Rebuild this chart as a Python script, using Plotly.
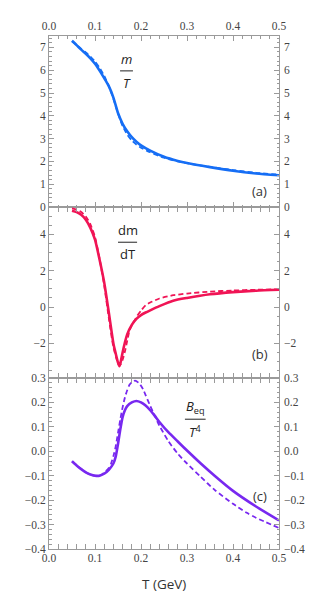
import plotly.graph_objects as go

# panel (a): m/T
T_a = [0.05, 0.06, 0.07, 0.08, 0.09, 0.10, 0.11, 0.12, 0.13, 0.14, 0.15, 0.16,
       0.17, 0.18, 0.19, 0.20, 0.22, 0.25, 0.28, 0.30, 0.35, 0.40, 0.45, 0.50]
mT_solid = [7.29, 7.10, 6.90, 6.72, 6.52, 6.28, 5.98, 5.65, 5.30, 4.80, 4.12, 3.65,
            3.32, 3.06, 2.86, 2.70, 2.47, 2.20, 2.02, 1.93, 1.75, 1.59, 1.47, 1.39]
mT_dashed = [7.27, 7.10, 6.93, 6.78, 6.60, 6.38, 6.10, 5.75, 5.30, 4.75, 4.10, 3.55,
             3.18, 2.92, 2.74, 2.60, 2.40, 2.16, 2.00, 1.92, 1.76, 1.62, 1.50, 1.42]

# panel (b): dm/dT
T_b_solid = [0.05, 0.06, 0.07, 0.08, 0.09, 0.10, 0.11, 0.12, 0.13, 0.14, 0.145, 0.15,
             0.153, 0.156, 0.16, 0.165, 0.17, 0.18, 0.19, 0.20, 0.21, 0.22, 0.24, 0.27,
             0.30, 0.35, 0.40, 0.45, 0.50]
dm_solid = [5.30, 5.22, 5.07, 4.80, 4.35, 3.70, 2.60, 1.35, -0.30, -2.00, -2.55, -3.05,
            -3.25, -3.00, -2.50, -1.95, -1.50, -0.98, -0.65, -0.44, -0.30, -0.18, 0.05, 0.35,
            0.50, 0.70, 0.82, 0.90, 0.95]
T_b_dashed = [0.05, 0.06, 0.07, 0.08, 0.09, 0.10, 0.11, 0.12, 0.13, 0.14, 0.15, 0.153,
              0.157, 0.16, 0.165, 0.17, 0.175, 0.18, 0.187, 0.19, 0.20, 0.21, 0.22, 0.24,
              0.27, 0.30, 0.35, 0.40, 0.45, 0.50]
dm_dashed = [5.42, 5.36, 5.22, 4.98, 4.55, 3.85, 2.65, 1.20, -0.60, -2.20, -3.10, -3.22,
             -3.10, -2.90, -2.45, -1.85, -1.30, -1.00, -0.70, -0.55, -0.20, 0.10, 0.25, 0.47,
             0.65, 0.74, 0.85, 0.91, 0.95, 0.97]

# panel (c): B_eq/T^4
T_c_solid = [0.05, 0.06, 0.07, 0.08, 0.09, 0.10, 0.11, 0.12, 0.13, 0.14, 0.145, 0.15,
             0.155, 0.16, 0.165, 0.17, 0.18, 0.19, 0.20, 0.21, 0.22, 0.23, 0.24, 0.26,
             0.28, 0.30, 0.33, 0.36, 0.40, 0.45, 0.50]
B_solid = [-0.041, -0.058, -0.073, -0.086, -0.095, -0.100, -0.100, -0.092, -0.076, -0.050,
           -0.022, 0.030, 0.090, 0.140, 0.168, 0.185, 0.200, 0.206, 0.200, 0.187, 0.168,
           0.145, 0.120, 0.077, 0.040, 0.003, -0.050, -0.100, -0.162, -0.226, -0.283]
T_c_dashed = [0.05, 0.06, 0.07, 0.08, 0.09, 0.10, 0.11, 0.12, 0.13, 0.135, 0.14, 0.145,
              0.15, 0.155, 0.16, 0.165, 0.17, 0.175, 0.18, 0.187, 0.195, 0.20, 0.205, 0.21,
              0.22, 0.23, 0.24, 0.26, 0.28, 0.30, 0.33, 0.36, 0.40, 0.43, 0.45, 0.50]
B_dashed = [-0.041, -0.058, -0.073, -0.086, -0.095, -0.100, -0.099, -0.088, -0.068, -0.050,
            -0.020, 0.020, 0.075, 0.130, 0.180, 0.220, 0.250, 0.272, 0.283, 0.289, 0.280,
            0.268, 0.252, 0.230, 0.186, 0.145, 0.105, 0.040, -0.010, -0.050, -0.105, -0.158,
            -0.215, -0.252, -0.272, -0.314]

x_ticks = [0.0, 0.1, 0.2, 0.3, 0.4, 0.5]

blue = "rgb(22,110,245)"
red = "rgb(240,20,85)"
purple = "rgb(120,40,240)"

frame = "#9a9a9a"
tickfont = dict(family="Liberation Serif", size=11.5, color="#444")
label_font = dict(family="Open Sans", size=13, color="#222")
panel_font = dict(family="Open Sans", size=13, color="#333")

fig = go.Figure()

def add_pair(x_s, y_s, x_d, y_d, color, xs, ys, xd, yd):
    fig.add_trace(go.Scatter(x=x_s, y=y_s, mode="lines", xaxis=xs, yaxis=ys,
                             line=dict(color=color, width=2.6, shape="spline", smoothing=0.6),
                             showlegend=False, hoverinfo="skip"))
    fig.add_trace(go.Scatter(x=x_d, y=y_d, mode="lines", xaxis=xd, yaxis=yd,
                             line=dict(color=color, width=1.8, dash="5px,3px",
                                       shape="spline", smoothing=0.6),
                             showlegend=False, hoverinfo="skip"))

add_pair(T_a, mT_solid, T_a, mT_dashed, blue, "x", "y", "x4", "y4")
add_pair(T_b_solid, dm_solid, T_b_dashed, dm_dashed, red, "x2", "y2", "x2", "y5")
add_pair(T_c_solid, B_solid, T_c_dashed, B_dashed, purple, "x3", "y3", "x3", "y6")

def xax(anchor, labels):
    return dict(anchor=anchor, domain=[0, 1], range=[0, 0.5], tickvals=x_ticks,
                tickformat=".1f", ticks="inside", ticklen=5, tickcolor=frame,
                showline=True, linecolor=frame, linewidth=1, mirror="allticks",
                showgrid=False, zeroline=False, showticklabels=labels, tickfont=tickfont,
                automargin=False, ticklabelstandoff=-2,
                minor=dict(ticks="inside", dtick=0.02, ticklen=2.5, tickcolor=frame))

def yax(anchor, domain, rng, dtick, minor, fmt=None):
    d = dict(anchor=anchor, domain=domain, range=rng, dtick=dtick, tick0=0,
             ticks="inside", ticklen=5, tickcolor=frame, showline=True, linecolor=frame,
             linewidth=1, mirror="allticks", showgrid=False, zeroline=False,
             tickfont=tickfont, automargin=False, ticklabelstandoff=0,
             minor=dict(ticks="inside", dtick=minor, ticklen=2.5, tickcolor=frame))
    if fmt:
        d["tickformat"] = fmt
    return d

def yright(over, anchor, rng, dtick, fmt=None):
    d = dict(overlaying=over, anchor=anchor, side="right", range=rng, dtick=dtick, tick0=0,
             ticks="", showline=False, showgrid=False, zeroline=False, tickfont=tickfont,
             automargin=False, ticklabelstandoff=4)
    if fmt:
        d["tickformat"] = fmt
    return d

dom_a, dom_b, dom_c = [2 / 3, 1], [1 / 3, 2 / 3], [0, 1 / 3]
rng_a, rng_b, rng_c = [0, 7.5], [-3.9, 5.5], [-0.4, 0.3]

# the page body adds an 8px offset, so the figure is 8px smaller than the window
fig.update_layout(
    width=320, height=585, autosize=False,
    margin=dict(l=41, r=49, t=28, b=44),
    paper_bgcolor="white", plot_bgcolor="white",
    xaxis=xax("y", False),
    xaxis2=xax("y2", False),
    xaxis3=xax("y3", True),
    xaxis4=dict(overlaying="x", anchor="y", side="top", range=[0, 0.5], tickvals=x_ticks,
                tickformat=".1f", ticks="", showline=False, showgrid=False,
                zeroline=False, tickfont=tickfont, automargin=False, ticklabelstandoff=3),
    yaxis=yax("x", dom_a, rng_a, 1, 0.2),
    yaxis2=yax("x2", dom_b, rng_b, 2, 0.5),
    yaxis3=yax("x3", dom_c, rng_c, 0.1, 0.02, ".1f"),
    yaxis4=yright("y", "x4", rng_a, 1),
    yaxis5=yright("y2", "x2", rng_b, 2),
    yaxis6=yright("y3", "x3", rng_c, 0.1, ".1f"),
)

notes = [
    ("<i>m</i>", 0.337, 0.934, label_font, "bottom"),
    ("<i>T</i>", 0.337, 0.930, label_font, "top"),
    ("dm", 0.342, 0.600, label_font, "bottom"),
    ("dT", 0.342, 0.596, label_font, "top"),
    ("<i>B</i><sub>eq</sub>", 0.636, 0.254, label_font, "bottom"),
    ("<i>T</i><sup>4</sup>", 0.636, 0.252, label_font, "top"),
    ("(a)", 0.917, 0.697, panel_font, "middle"),
    ("(b)", 0.917, 0.381, panel_font, "middle"),
    ("(c)", 0.917, 0.103, panel_font, "middle"),
    ("T (GeV)", 0.5, -0.068, dict(family="Open Sans", size=13.5, color="#333"), "middle"),
]
for text, x, y, f, ya in notes:
    fig.add_annotation(text=text, x=x, y=y, xref="paper", yref="paper",
                       showarrow=False, font=f, xanchor="center", yanchor=ya)

bars = [(0.309, 0.365, 0.932), (0.300, 0.383, 0.598), (0.591, 0.681, 0.253)]
for x0, x1, y in bars:
    fig.add_shape(type="line", xref="paper", yref="paper", x0=x0, x1=x1, y0=y, y1=y,
                  line=dict(color="#222", width=1))

fig.write_html("out.html")
